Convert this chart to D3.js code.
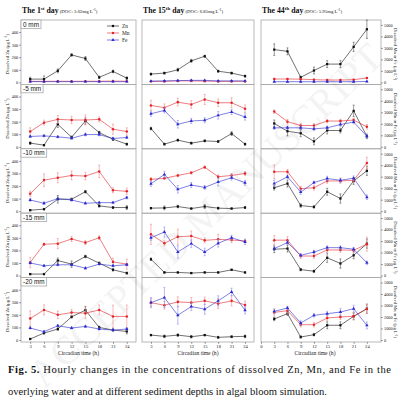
<!DOCTYPE html>
<html>
<head>
<meta charset="utf-8">
<script src="https://cdn.jsdelivr.net/npm/d3@7"></script>
<style>
  body { margin: 0; background: #fff; }
  svg { display: block; }
  .tick text { font-family: "Liberation Serif", serif; }
</style>
</head>
<body>
<div id="chart"></div>
<script>
// sampling hours and depths
const hours = [3, 6, 9, 12, 15, 18, 21, 24];
const depths = ["0 mm", "-5 mm", "-10 mm", "-15 mm", "-20 mm"];
const dayTitles = ["1", "15", "44"];
const daySup = ["st", "th", "th"];
const docValues = ["3.62", "6.85", "5.95"];
const znTicks = [0, 100, 200, 300, 400];
const mnFeTicks = [0, 1000, 2000, 3000, 4000, 5000];

// 1st day (rows = depths)
const day1Zn = [
  [26, 26, 92, 218, 190, 40, 87, 34],
  [29, 13, 179, 76, 205, 113, 60, 21],
  [8, 16, 95, 95, 155, 42, 29, 29],
  [12, 12, 120, 91, 152, 99, 46, 20],
  [8, 55, 87, 184, 237, 100, 79, 68]
];
const day1ZnErr = [
  [15, 25, 15, 10, 15, 10, 10, 10],
  [10, 5, 25, 10, 25, 10, 10, 8],
  [5, 5, 30, 10, 10, 10, 8, 15],
  [5, 5, 20, 25, 10, 10, 10, 8],
  [5, 8, 10, 10, 30, 10, 10, 20]
];
const day1Mn = [
  [8, 8, 9, 8, 9, 9, 10, 9],
  [121, 192, 218, 213, 213, 218, 140, 121],
  [139, 247, 266, 284, 279, 316, 166, 158],
  [104, 249, 254, 291, 262, 301, 109, 91],
  [171, 239, 200, 218, 213, 239, 187, 187]
];
const day1MnErr = [
  [3, 3, 3, 3, 3, 3, 3, 3],
  [30, 20, 30, 30, 40, 20, 40, 30],
  [20, 50, 40, 35, 30, 50, 20, 25],
  [40, 10, 40, 20, 15, 15, 30, 40],
  [60, 40, 30, 25, 40, 40, 90, 90]
];
const day1Fe = [
  [6, 6, 6, 6, 6, 6, 6, 6],
  [82, 87, 79, 68, 97, 97, 66, 74],
  [89, 63, 100, 89, 63, 68, 68, 108],
  [100, 78, 86, 86, 59, 91, 78, 86],
  [95, 66, 113, 95, 108, 87, 79, 87]
];
const day1FeErr = [
  [2, 2, 2, 2, 2, 2, 2, 2],
  [8, 8, 8, 8, 10, 10, 8, 8],
  [10, 10, 15, 10, 8, 8, 8, 10],
  [8, 8, 8, 8, 8, 8, 8, 8],
  [8, 8, 8, 8, 8, 8, 8, 8]
];

// 15th day
const day15Zn = [
  [66, 74, 100, 171, 208, 89, 74, 50],
  [145, 21, 53, 29, 47, 42, 105, 21],
  [24, 26, 37, 21, 37, 24, 21, 29],
  [130, 25, 25, 20, 25, 25, 46, 25],
  [39, 29, 39, 26, 39, 21, 26, 29]
];
const day15ZnErr = [
  [8, 8, 12, 12, 8, 8, 8, 8],
  [10, 8, 8, 8, 8, 8, 15, 8],
  [5, 15, 10, 5, 15, 8, 5, 8],
  [10, 5, 5, 5, 5, 5, 5, 5],
  [5, 10, 10, 10, 5, 8, 8, 10]
];
const day15Mn = [
  [8, 8, 12, 12, 10, 8, 8, 8],
  [329, 311, 355, 337, 376, 350, 350, 303],
  [253, 261, 284, 305, 350, 274, 284, 300],
  [328, 257, 309, 314, 280, 288, 283, 275],
  [297, 276, 303, 297, 311, 289, 311, 279]
];
const day15MnErr = [
  [3, 3, 3, 3, 3, 3, 3, 3],
  [40, 30, 30, 30, 40, 30, 40, 30],
  [15, 10, 10, 10, 10, 15, 15, 15],
  [80, 20, 60, 40, 20, 40, 20, 15],
  [30, 30, 40, 40, 30, 40, 40, 30]
];
const day15Fe = [
  [10, 12, 14, 16, 16, 12, 12, 12],
  [263, 289, 179, 205, 211, 250, 276, 237],
  [218, 292, 174, 208, 189, 232, 266, 226],
  [301, 346, 188, 254, 188, 257, 301, 267],
  [297, 337, 197, 266, 245, 311, 382, 237]
];
const day15FeErr = [
  [3, 3, 3, 3, 3, 3, 3, 3],
  [20, 20, 30, 20, 20, 30, 20, 25],
  [20, 25, 30, 20, 15, 30, 20, 20],
  [20, 40, 50, 30, 30, 30, 20, 20],
  [40, 80, 70, 30, 40, 40, 30, 30]
];

// 44th day (read on the Mn / Fe axis)
const day44Zn = [
  [2850, 2700, 440, 1030, 1590, 1590, 3090, 4620],
  [2030, 1350, 1180, 470, 1420, 1410, 3120, 910],
  [2040, 2400, 490, 370, 1690, 1100, 2630, 3510],
  [2290, 2350, 520, 380, 1550, 1050, 1760, 2780],
  [1830, 2290, 260, 460, 1280, 1280, 2060, 2720]
];
const day44ZnErr = [
  [500, 300, 100, 300, 300, 300, 400, 800],
  [300, 400, 300, 300, 300, 200, 500, 200],
  [200, 300, 150, 100, 300, 400, 300, 400],
  [300, 300, 100, 100, 400, 400, 300, 400],
  [150, 150, 100, 100, 300, 300, 300, 400]
];
const day44Mn = [
  [294, 294, 280, 235, 206, 206, 235, 382],
  [3060, 2180, 1850, 1850, 2240, 2240, 2320, 1740],
  [3430, 3430, 1960, 2040, 2630, 2630, 2690, 4190],
  [3080, 3080, 1700, 1700, 2230, 2230, 2200, 2730],
  [2400, 2550, 1330, 1330, 1910, 2000, 2060, 2700]
];
const day44MnErr = [
  [60, 60, 60, 60, 60, 60, 60, 60],
  [150, 200, 200, 150, 150, 150, 150, 200],
  [600, 200, 200, 200, 200, 200, 200, 500],
  [400, 300, 200, 200, 200, 200, 200, 600],
  [300, 300, 200, 200, 200, 200, 300, 400]
];
const day44Fe = [
  [60, 60, 60, 60, 60, 60, 60, 80],
  [1650, 1650, 1650, 1560, 1650, 1940, 2150, 910],
  [2400, 2990, 1660, 2490, 2840, 2690, 2870, 1220],
  [2350, 2870, 1760, 2050, 2430, 2430, 2290, 1110],
  [2490, 2780, 1480, 2140, 2290, 2430, 2720, 1270]
];
const day44FeErr = [
  [30, 30, 30, 30, 30, 30, 30, 30],
  [150, 150, 150, 150, 150, 150, 150, 150],
  [300, 150, 200, 100, 200, 200, 200, 200],
  [150, 150, 150, 150, 150, 150, 150, 150],
  [200, 150, 200, 150, 200, 300, 300, 300]
];

const W = 399, H = 410;
const serif = "'Liberation Serif', 'Times New Roman', serif";
const sans = "'Liberation Sans', Arial, sans-serif";

const svg = d3.select("#chart").append("svg")
  .attr("width", W)
  .attr("height", H);

// layout of the 3 x 5 panel grid
const cols = [
  {x0: 21, x1: 136, dom: [1, 26], ticks: hours, yDom: [-16, 496]},
  {x0: 142, x1: 254, dom: [1, 26], ticks: hours, yDom: [-16, 496]},
  {x0: 261, x1: 381, dom: [0, 27.2], ticks: [0].concat(hours), yDom: [-175, 5425]}
];
const rowTop = 20, rowH = 64.4;

const days = [
  {zn: day1Zn, znE: day1ZnErr, mn: day1Mn, mnE: day1MnErr, fe: day1Fe, feE: day1FeErr},
  {zn: day15Zn, znE: day15ZnErr, mn: day15Mn, mnE: day15MnErr, fe: day15Fe, feE: day15FeErr},
  {zn: day44Zn, znE: day44ZnErr, mn: day44Mn, mnE: day44MnErr, fe: day44Fe, feE: day44FeErr}
];

const series = [
  {key: "zn", err: "znE", name: "Zn", color: "#111", errColor: "#555", shape: d3.symbolSquare},
  {key: "mn", err: "mnE", name: "Mn", color: "#e3262b", errColor: "#f08a8c", shape: d3.symbolCircle},
  {key: "fe", err: "feE", name: "Fe", color: "#2b2bd0", errColor: "#8c8cf0", shape: d3.symbolTriangle}
];

const frameColor = "#a8a8a8";
const intFmt = d3.format("d");

function styleAxis(g, size) {
  g.select(".domain").remove();
  g.selectAll(".tick line").attr("stroke", "#333").attr("stroke-width", 0.5);
  g.selectAll(".tick text")
    .attr("font-size", size)
    .attr("fill", "#222");
}

cols.forEach(function(c, ci) {
  const x = d3.scaleLinear().domain(c.dom).range([c.x0, c.x1]);
  const day = days[ci];

  depths.forEach(function(depth, ri) {
    const top = rowTop + ri * rowH;
    const y = d3.scaleLinear().domain(c.yDom).range([top + rowH, top]);
    const g = svg.append("g");

    g.append("rect")
      .attr("x", c.x0).attr("y", top)
      .attr("width", c.x1 - c.x0).attr("height", rowH)
      .attr("fill", "none")
      .attr("stroke", frameColor)
      .attr("stroke-width", 0.8);

    series.forEach(function(s) {
      const vals = day[s.key][ri];
      const errs = day[s.err][ri];
      const pts = hours.map(function(h, i) { return {h: h, v: vals[i], e: errs[i]}; });

      // error bars
      const eb = g.append("g").attr("stroke", s.errColor).attr("stroke-width", 0.6);
      pts.forEach(function(p) {
        eb.append("line")
          .attr("x1", x(p.h)).attr("x2", x(p.h))
          .attr("y1", y(p.v - p.e)).attr("y2", y(p.v + p.e));
        [p.v - p.e, p.v + p.e].forEach(function(t) {
          eb.append("line")
            .attr("x1", x(p.h) - 1).attr("x2", x(p.h) + 1)
            .attr("y1", y(t)).attr("y2", y(t));
        });
      });

      g.append("path")
        .datum(pts)
        .attr("fill", "none")
        .attr("stroke", s.color)
        .attr("stroke-width", 0.6)
        .attr("d", d3.line().x(function(d) { return x(d.h); }).y(function(d) { return y(d.v); }));

      g.selectAll(null)
        .data(pts)
        .join("path")
        .attr("transform", function(d) { return "translate(" + x(d.h) + "," + y(d.v) + ")"; })
        .attr("fill", s.color)
        .attr("d", d3.symbol().type(s.shape).size(5));
    });

    // left Zn axis on first column
    if (ci === 0) {
      const ay = g.append("g")
        .attr("transform", "translate(" + c.x0 + ",0)")
        .call(d3.axisLeft(y).tickValues(znTicks).tickFormat(intFmt).tickSize(1.8).tickPadding(1));
      styleAxis(ay, 4.3);

      const tl = g.append("text")
        .attr("transform", "translate(9," + (top + rowH / 2 + 2) + ") rotate(-90)")
        .attr("text-anchor", "middle")
        .attr("font-family", serif)
        .attr("font-size", 4.6)
        .attr("fill", "#222");
      tl.append("tspan").text("Dissolved Zn (\u03bcg L");
      tl.append("tspan").attr("dy", -1.6).attr("font-size", 3.4).text("-1");
      tl.append("tspan").attr("dy", 1.6).text(")");

      // depth label box
      const lb = g.append("g");
      const lt = lb.append("text")
        .attr("x", c.x0 + 2).attr("y", top + 6.6)
        .attr("font-family", sans)
        .attr("font-size", 6.4)
        .attr("fill", "#111")
        .text(depth);
      const bw = lt.node().getComputedTextLength() + 4;
      lb.insert("rect", "text")
        .attr("x", c.x0).attr("y", top)
        .attr("width", bw).attr("height", 8.4)
        .attr("fill", "#fff")
        .attr("stroke", frameColor)
        .attr("stroke-width", 0.8);
    }

    // right Mn / Fe axis on last column
    if (ci === 2) {
      const ay = g.append("g")
        .attr("transform", "translate(" + c.x1 + ",0)")
        .call(d3.axisRight(y).tickValues(mnFeTicks).tickFormat(intFmt).tickSize(1.8).tickPadding(1.2));
      styleAxis(ay, 4.3);

      const tr = g.append("text")
        .attr("transform", "translate(393.5," + (top + rowH / 2 + 2) + ") rotate(90)")
        .attr("text-anchor", "middle")
        .attr("font-family", serif)
        .attr("font-size", 4.6)
        .attr("fill", "#222");
      tr.append("tspan").text("Dissolved Mn or Fe (\u03bcg L");
      tr.append("tspan").attr("dy", -1.6).attr("font-size", 3.4).text("-1");
      tr.append("tspan").attr("dy", 1.6).text(")");
    }

    // legend in the top left panel
    if (ci === 0 && ri === 0) {
      series.forEach(function(s, i) {
        const ly = top + 6 + i * 7;
        g.append("line")
          .attr("x1", 107).attr("x2", 119)
          .attr("y1", ly).attr("y2", ly)
          .attr("stroke", s.color).attr("stroke-width", 0.6);
        g.append("path")
          .attr("transform", "translate(113," + ly + ")")
          .attr("fill", s.color)
          .attr("d", d3.symbol().type(s.shape).size(5));
        g.append("text")
          .attr("x", 122).attr("y", ly + 1.8)
          .attr("font-family", serif)
          .attr("font-size", 5.4)
          .attr("fill", "#222")
          .text(s.name);
      });
    }
  });

  // bottom time axis
  const bottom = rowTop + depths.length * rowH;
  const ax = svg.append("g")
    .attr("transform", "translate(0," + bottom + ")")
    .call(d3.axisBottom(x).tickValues(c.ticks).tickFormat(intFmt).tickSize(1.8).tickPadding(1.2));
  styleAxis(ax, 4.6);

  svg.append("text")
    .attr("x", (c.x0 + c.x1) / 2 + (ci === 2 ? -6 : 0))
    .attr("y", bottom + 13)
    .attr("text-anchor", "middle")
    .attr("font-family", serif)
    .attr("font-size", 5.6)
    .attr("fill", "#222")
    .text("Circadian time (h)");

  // column title
  const t = svg.append("text")
    .attr("x", c.x0 + 1)
    .attr("y", 13)
    .attr("font-family", serif)
    .attr("fill", "#111");
  t.append("tspan").attr("font-weight", "bold").attr("font-size", 7.8).text("The " + dayTitles[ci]);
  t.append("tspan").attr("font-weight", "bold").attr("font-size", 5).attr("dy", -2.6).text(daySup[ci]);
  t.append("tspan").attr("font-weight", "bold").attr("font-size", 7.8).attr("dy", 2.6).text(" day");
  t.append("tspan").attr("font-size", 4.8).text("  (DOC: " + docValues[ci] + "mg L");
  t.append("tspan").attr("font-size", 3.6).attr("dy", -1.8).text("-1");
  t.append("tspan").attr("font-size", 4.8).attr("dy", 1.8).text(")");
});

// caption
const cap1 = svg.append("text")
  .attr("x", 8).attr("y", 373)
  .attr("font-family", serif)
  .attr("font-size", 10.6)
  .attr("fill", "#111")
  .attr("textLength", 383)
  .attr("lengthAdjust", "spacing");
cap1.append("tspan").attr("font-weight", "bold").text("Fig. 5.");
cap1.append("tspan").text(" Hourly changes in the concentrations of dissolved Zn, Mn, and Fe in the");

svg.append("text")
  .attr("x", 8).attr("y", 395)
  .attr("font-family", serif)
  .attr("font-size", 10.6)
  .attr("fill", "#111")
  .text("overlying water and at different sediment depths in algal bloom simulation.");

// faint watermark, kept inside the picture
svg.append("text")
  .attr("transform", "translate(215,225) rotate(-44)")
  .attr("text-anchor", "middle")
  .attr("font-family", serif)
  .attr("font-size", 40)
  .attr("fill", "#000")
  .attr("opacity", 0.045)
  .text("ACCEPTED MANUSCRIPT");
</script>
</body>
</html>
